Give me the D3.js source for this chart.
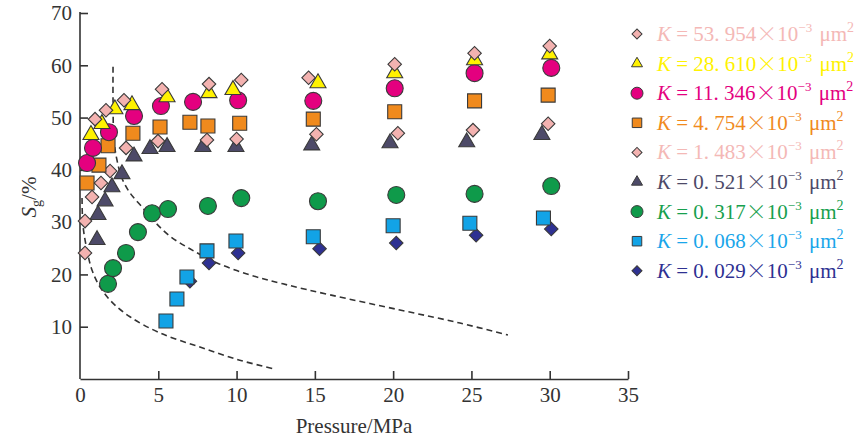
<!DOCTYPE html>
<html>
<head>
<meta charset="utf-8">
<script src="https://cdn.jsdelivr.net/npm/d3@7"></script>
<style>
  body { margin: 0; background: #fff; }
  svg text { font-family: "Liberation Serif", "Times New Roman", serif; }
  .axis path, .axis line { stroke: #333; stroke-width: 1.6; }
  .axis text { font-size: 21px; fill: #333; }
</style>
</head>
<body>
<div id="chart"></div>
<script>
// permeability labels (legend, top to bottom)
const kLabels = ["53. 954", "28. 610", "11. 346", "4. 754", "1. 483", "0. 521", "0. 317", "0. 068", "0. 029"];
const kColors = ["#f3b2b0", "#fff200", "#e4007f", "#f08a1d", "#f3b2b0", "#4d4a68", "#0f9a4a", "#12a3e6", "#2e3192"];
const kText = ["#f4b8b6", "#fff200", "#e4007f", "#f08a1d", "#f4b8b6", "#4d4a68", "#17a04e", "#1aa6ea", "#2e3192"];
const kShapes = ["diamond", "triangle", "circle", "square", "diamond", "triangle", "circle", "square", "diamond"];

// [pressure MPa, Sg %]
const k53954 = [[0.96, 49.7], [1.66, 51.4], [2.81, 53.3], [5.24, 55.4], [8.24, 56.4], [10.3, 57.2], [14.6, 57.6], [20.1, 60.2], [25.2, 62.3], [30.0, 63.7]];
const k28610 = [[0.7, 46.7], [1.4, 48.8], [2.23, 51.6], [3.32, 52.4], [5.56, 53.9], [8.24, 54.7], [9.77, 55.3], [15.2, 56.6], [20.1, 58.5], [25.2, 61.0], [30.0, 62.1]];
const k11346 = [[0.45, 41.3], [0.83, 44.2], [1.85, 47.2], [3.45, 50.3], [5.17, 52.2], [7.22, 53.0], [10.1, 53.3], [14.9, 53.2], [20.1, 55.6], [25.2, 58.5], [30.1, 59.5]];
const k4754 = [[0.45, 37.5], [1.21, 40.9], [1.79, 44.6], [3.38, 47.0], [5.11, 48.2], [7.02, 49.1], [8.17, 48.4], [10.2, 48.9], [14.9, 49.7], [20.1, 51.1], [25.2, 53.2], [29.9, 54.3]];
const k1483 = [[0.32, 24.1], [0.32, 30.2], [0.77, 34.8], [1.34, 37.5], [1.92, 39.8], [2.94, 44.2], [4.98, 45.5], [8.11, 45.7], [10.0, 45.9], [15.1, 46.8], [20.3, 47.0], [25.1, 47.6], [29.9, 48.8]];
const k0521 = [[1.09, 26.6], [1.15, 31.4], [1.6, 34.0], [2.04, 36.7], [2.68, 39.2], [3.45, 42.6], [4.47, 44.0], [5.56, 44.4], [7.85, 44.4], [9.96, 44.4], [14.8, 44.7], [19.8, 45.1], [24.7, 45.3], [29.5, 46.7]];
const k0317 = [[1.79, 18.2], [2.11, 21.2], [2.94, 24.1], [3.7, 28.1], [4.6, 31.7], [5.62, 32.5], [8.17, 33.1], [10.3, 34.6], [15.2, 34.0], [20.2, 35.2], [25.2, 35.4], [30.1, 36.9]];
const k0068 = [[5.49, 11.1], [6.19, 15.3], [6.83, 19.5], [8.11, 24.5], [9.96, 26.4], [14.9, 27.2], [20.0, 29.3], [24.9, 29.8], [29.6, 30.8]];
const k0029 = [[7.02, 18.7], [8.24, 22.2], [10.1, 24.1], [15.3, 24.9], [20.2, 26.0], [25.3, 27.5], [30.1, 28.7]];
const kSeries = [k53954, k28610, k11346, k4754, k1483, k0521, k0317, k0068, k0029];

// dashed boundary curves
const dashLow = [[0.13, 34.6], [0.19, 29.4], [0.45, 24.6], [0.77, 20.8], [1.28, 17.6], [2.04, 14.7], [3.19, 11.9], [5.11, 8.8], [7.66, 6.1], [10.2, 3.6], [12.45, 1.9]];
const dashHigh = [[2.11, 59.7], [2.11, 53.3], [2.17, 45.7], [2.36, 41.9], [2.68, 38.4], [3.19, 35.6], [3.96, 32.9], [4.79, 30.0], [5.75, 27.3], [7.02, 24.9], [8.75, 22.2], [10.86, 19.9], [12.96, 18.2], [15.96, 16.1], [20.43, 13.2], [24.27, 10.7], [27.33, 8.4]];

const xTicks = [0, 5, 10, 15, 20, 25, 30, 35];
const yTicks = [10, 20, 30, 40, 50, 60, 70];

const width = 861, height = 443;
const svg = d3.select("#chart").append("svg")
    .attr("width", width)
    .attr("height", height);

const x = d3.scaleLinear().domain([0, 35]).range([80, 628]);
const y = d3.scaleLinear().domain([0, 70]).range([379, 13]);

// axes
svg.append("g")
    .attr("class", "axis")
    .attr("transform", `translate(0,${y(0)})`)
    .call(d3.axisBottom(x).tickValues(xTicks).tickSize(-8).tickSizeOuter(0).tickPadding(8))
    .call(g => g.selectAll(".tick").filter(d => d === 0).select("line").remove());

svg.append("g")
    .attr("class", "axis")
    .attr("transform", `translate(${x(0)},0)`)
    .call(d3.axisLeft(y).tickValues(yTicks).tickSize(-8).tickSizeOuter(0).tickPadding(8))
    .call(g => g.select(".domain").attr("d", `M0,${y(0)}V${y(70) - 1}`));

svg.append("text")
    .attr("x", (x(0) + x(35)) / 2)
    .attr("y", 433)
    .attr("text-anchor", "middle")
    .attr("font-size", 21)
    .attr("fill", "#333")
    .text("Pressure/MPa");

const yl = svg.append("text")
    .attr("transform", "translate(36,197) rotate(-90)")
    .attr("text-anchor", "middle")
    .attr("font-size", 21)
    .attr("fill", "#333");
yl.append("tspan").attr("font-style", "italic").text("S");
yl.append("tspan").attr("font-size", 14).attr("dy", 5).text("g");
yl.append("tspan").attr("dy", -5).text("/%");

// dashed curves
const line = d3.line()
    .x(d => x(d[0]))
    .y(d => y(d[1]))
    .curve(d3.curveCatmullRom.alpha(0.5));

[dashLow, dashHigh].forEach(c => {
    svg.append("path")
        .attr("d", line(c))
        .attr("fill", "none")
        .attr("stroke", "#333")
        .attr("stroke-width", 1.6)
        .attr("stroke-dasharray", "6,4");
});

function symbolPath(shape, s) {
    if (shape === "circle") return d3.symbol(d3.symbolCircle, Math.PI * s.r * s.r)();
    if (shape === "square") return d3.symbol(d3.symbolSquare, s.sq * s.sq)();
    if (shape === "diamond") return d3.symbol(d3.symbolSquare, s.dm * s.dm / 2)();
    return d3.symbol(d3.symbolTriangle, Math.sqrt(3) / 4 * s.tr * s.tr)();
}
const bigSize = { r: 8.5, sq: 14, dm: 13.5, tr: 16 };
const smallSize = { r: 6, sq: 9.5, dm: 10, tr: 11 };

// draw from the bottom legend entry upwards so the overlaps match
for (let i = kSeries.length - 1; i >= 0; i--) {
    const shape = kShapes[i];
    svg.append("g").selectAll("path")
        .data(kSeries[i])
        .enter()
        .append("path")
        .attr("d", symbolPath(shape, bigSize))
        .attr("transform", d => `translate(${x(d[0])},${y(d[1])})` + (shape === "diamond" ? " rotate(45)" : ""))
        .attr("fill", kColors[i])
        .attr("stroke", "#3a3a3a")
        .attr("stroke-width", 1.1);
}

// legend
const legend = svg.append("g");
kLabels.forEach((lab, i) => {
    const cy = 34 + i * 29.6;
    const shape = kShapes[i];
    legend.append("path")
        .attr("d", symbolPath(shape, smallSize))
        .attr("transform", `translate(637,${cy})` + (shape === "diamond" ? " rotate(45)" : ""))
        .attr("fill", kColors[i])
        .attr("stroke", "#3a3a3a")
        .attr("stroke-width", 1);
    const t = legend.append("text")
        .attr("x", 657)
        .attr("y", cy + 7)
        .attr("font-size", 21)
        .attr("fill", kText[i]);
    t.append("tspan").attr("font-style", "italic").text("K");
    t.append("tspan").text(" = " + lab);
    t.append("tspan").attr("font-family", "Noto Sans CJK SC").attr("font-weight", 300).text("×");
    t.append("tspan").text("10");
    t.append("tspan").attr("font-size", 13).attr("dy", -9).text("−3");
    t.append("tspan").attr("dy", 9).attr("dx", 2).text(" μm");
    t.append("tspan").attr("font-size", 14).attr("dy", -9).text("2");
});
</script>
</body>
</html>
